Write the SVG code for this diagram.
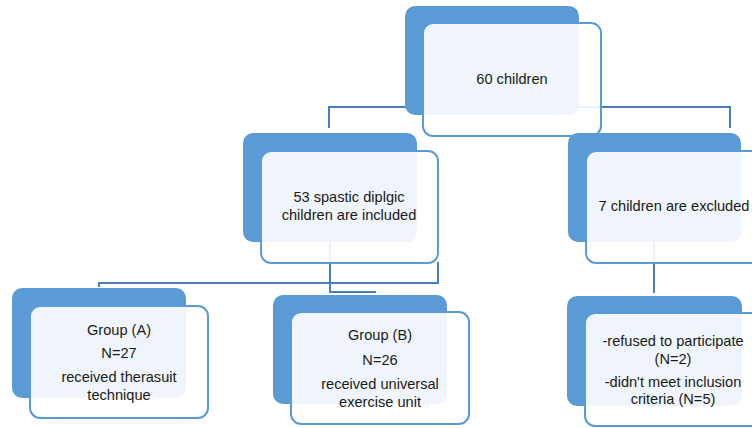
<svg xmlns="http://www.w3.org/2000/svg" width="752" height="428" viewBox="0 0 752 428">
<style>
.back{fill:#5b9bd5}
.front{fill:#ffffff;fill-opacity:0.9;stroke:#5b9bd5;stroke-width:2}
.conn{fill:none;stroke:#4a7ebb;stroke-width:2}
text{font-family:"Liberation Sans",Arial,sans-serif;font-size:14.6px;fill:#1a1a1a;text-anchor:middle}
</style>
<rect width="752" height="428" fill="#ffffff"/>
<g id="connectors">
<path class="conn" d="M329,128 V107 H730 V128"/>
<path class="conn" d="M99,287 V283 H438 V262"/>
<path class="conn" d="M330,243 V292 H376"/>
<path class="conn" d="M654,243 V293"/>
</g>
<g id="n60">
<rect class="back" x="405" y="6" width="174" height="109" rx="10"/>
<rect class="front" x="423" y="23" width="178" height="113" rx="10"/>
<text x="512" y="84">60 children</text>
</g>
<g id="n53">
<rect class="back" x="243" y="133" width="174" height="109" rx="10"/>
<rect class="front" x="261" y="151" width="177" height="112" rx="10"/>
<text x="349" y="202">53 spastic diplgic</text>
<text x="349" y="220">children are included</text>
</g>
<g id="n7">
<rect class="back" x="568" y="133" width="173" height="109" rx="10"/>
<rect class="front" x="586" y="151" width="177" height="112" rx="10"/>
<text x="674" y="211">7 children are excluded</text>
</g>
<g id="nA">
<rect class="back" x="12" y="288" width="174" height="110" rx="10"/>
<rect class="front" x="30" y="306" width="178" height="112" rx="10"/>
<text x="119" y="335">Group (A)</text>
<text x="119" y="358">N=27</text>
<text x="119" y="382">received therasuit</text>
<text x="119" y="400">technique</text>
</g>
<g id="nB">
<rect class="back" x="273" y="295" width="174" height="109" rx="10"/>
<rect class="front" x="291" y="312" width="178" height="112" rx="10"/>
<text x="380" y="340">Group (B)</text>
<text x="380" y="365">N=26</text>
<text x="380" y="389">received universal</text>
<text x="380" y="407">exercise unit</text>
</g>
<g id="nEx">
<rect class="back" x="567" y="296" width="175" height="110" rx="10"/>
<rect class="front" x="585" y="313" width="178" height="113" rx="10"/>
<text x="673" y="346">-refused to participate</text>
<text x="673" y="364">(N=2)</text>
<text x="673" y="387">-didn't meet inclusion</text>
<text x="673" y="404">criteria (N=5)</text>
</g>
</svg>
